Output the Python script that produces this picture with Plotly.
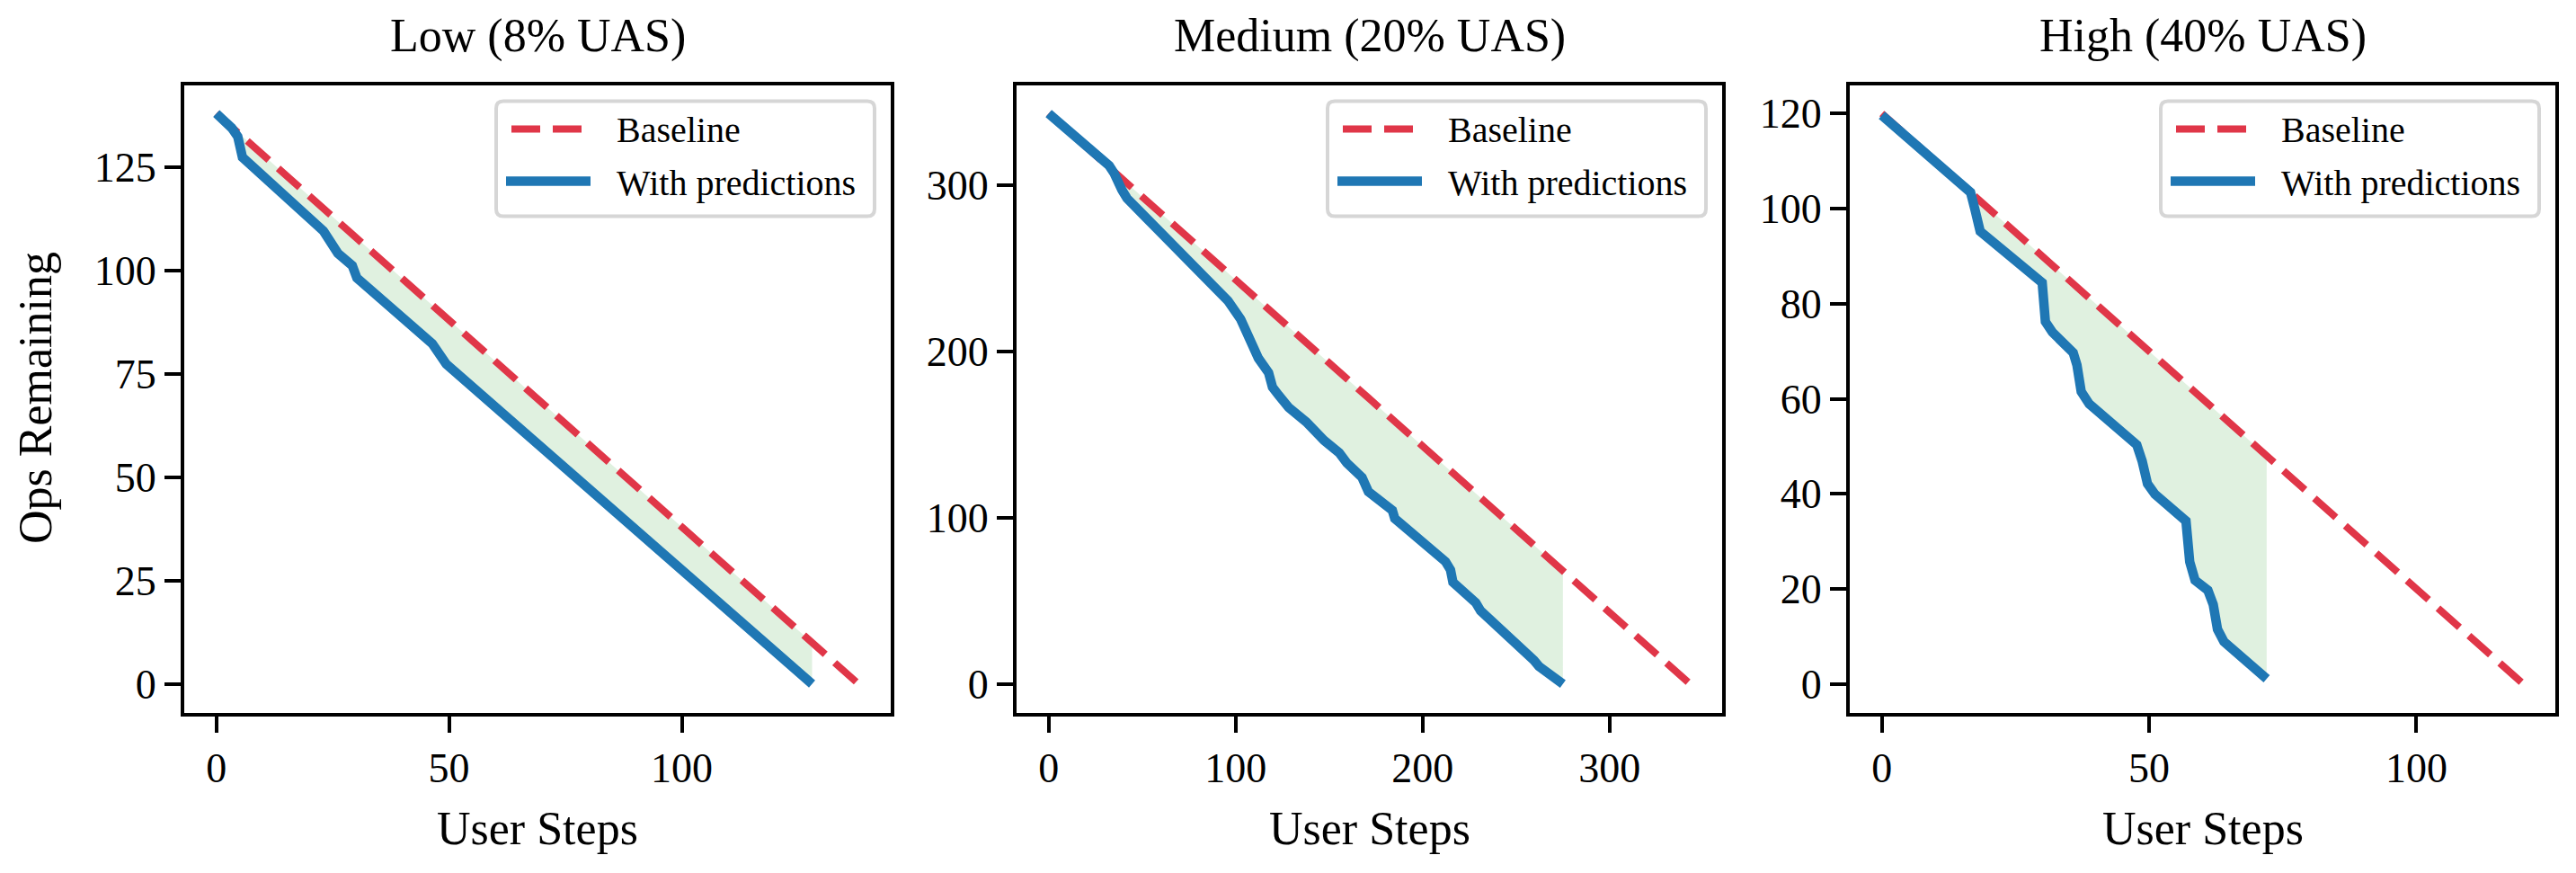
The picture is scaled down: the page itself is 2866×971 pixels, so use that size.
import numpy as np
import plotly.graph_objects as go

W, H = 2866, 971

# ---------------- data ----------------
titles = ["Low (8% UAS)", "Medium (20% UAS)", "High (40% UAS)"]

low_base_x = [0, 138]
low_base_y = [138, 0]
low_pred_x = [0, 2.3, 3.3, 4.6, 5.6, 23.0, 24.6, 26.1, 29.2, 30.2, 46.4, 47.9, 49.4, 128]
low_pred_y = [138, 136, 134.5, 132.4, 127.4, 109.6, 106.6, 104.2, 101.2, 98.2, 82.3, 79.9, 77.4, 0]

med_base_x = [0, 343]
med_base_y = [343, 0]
med_pred_x = [0, 32.4, 35.1, 36.5, 39.2, 41.9, 58.1, 73.5, 75.7, 82.4, 91.9, 95.9, 102.7,
              105.4, 109.5, 112.2, 117.6, 119.7, 123.0, 128.4, 137.8, 147.3, 155.4, 159.5,
              167.6, 171.0, 183.8, 185.1, 212.2, 214.9, 216.2, 228.4, 231.0, 248.6, 252.7,
              259.5, 262.2, 275]
med_pred_y = [343, 311.6, 306.9, 302, 297, 292, 273.6, 257.5, 253.8, 246.4, 236.5, 230.4, 219.3,
              213, 202, 195.8, 187.2, 178.5, 173.6, 166.2, 157.5, 146.4, 139, 132.8,
              124.2, 115.6, 104.4, 99.5, 73.6, 68.6, 61.2, 48.9, 44, 26.7, 21.7,
              14.3, 10.6, 0]

high_base_x = [0, 120]
high_base_y = [120, 0]
high_pred_x = [0, 16.6, 17.4, 18.4, 30.0, 30.6, 31.9, 35.8, 36.5, 37.3, 38.8, 47.7, 48.7,
               49.7, 51.1, 56.9, 57.6, 58.6, 61.0, 62.0, 62.8, 64.0, 72]
high_pred_y = [119.6, 103.4, 99.9, 95.2, 84.4, 76.2, 74, 69.7, 67.1, 61.5, 58.9, 50.3, 46.9,
               42.1, 39.9, 34.3, 25.7, 21.8, 19.7, 16.7, 11.5, 8.9, 1.1]

x_ticks = [[0, 50, 100], [0, 100, 200, 300], [0, 50, 100]]
y_ticks = [[0, 25, 50, 75, 100, 125], [0, 100, 200, 300], [0, 20, 40, 60, 80, 100, 120]]

x_label = "User Steps"
y_label = "Ops Remaining"
legend_labels = ["Baseline", "With predictions"]

# ---------------- styling ----------------
FONT = "Liberation Serif"
RED = "#e03648"
BLUE = "#1f77b4"
FILL = "rgba(44,160,44,0.15)"
LW = 4

frames = [(203, 993), (1129, 1918), (2056, 2845)]
TOP, BOT = 92.5, 794.5


def fx(X):
    return X / W


def fy(Y):
    return 1 - Y / H


panels = [
    (low_base_x, low_base_y, low_pred_x, low_pred_y),
    (med_base_x, med_base_y, med_pred_x, med_pred_y),
    (high_base_x, high_base_y, high_pred_x, high_pred_y),
]

fig = go.Figure()
shapes = []
annotations = []

for i, (bx, by, px_, py_) in enumerate(panels):
    xa = "x" if i == 0 else f"x{i + 1}"
    ya = "y" if i == 0 else f"y{i + 1}"

    # area between the prediction curve and the baseline
    b_end = float(np.interp(px_[-1], bx, by))
    b_start = float(np.interp(px_[0], bx, by))
    fill_x = list(px_) + [px_[-1], px_[0]]
    fill_y = list(py_) + [b_end, b_start]
    fig.add_trace(go.Scatter(x=fill_x, y=fill_y, mode="lines", fill="toself",
                             fillcolor=FILL, line=dict(width=0, color="rgba(0,0,0,0)"),
                             hoverinfo="skip", showlegend=False, xaxis=xa, yaxis=ya))
    fig.add_trace(go.Scatter(x=bx, y=by, mode="lines", name=legend_labels[0],
                             line=dict(color=RED, width=8, dash="32px,14px"),
                             showlegend=False, xaxis=xa, yaxis=ya))
    fig.add_trace(go.Scatter(x=px_, y=py_, mode="lines", name=legend_labels[1],
                             line=dict(color=BLUE, width=10.5),
                             showlegend=False, xaxis=xa, yaxis=ya))

    span = max(bx)
    pad = span * 0.05
    l, r = frames[i]
    axis_common = dict(showline=True, mirror=True, linecolor="black", linewidth=LW,
                       ticks="outside", ticklen=18, tickwidth=4, tickcolor="black",
                       tickfont=dict(family=FONT, size=46, color="black"),
                       showgrid=False, zeroline=False)
    xkey = "xaxis" if i == 0 else f"xaxis{i + 1}"
    ykey = "yaxis" if i == 0 else f"yaxis{i + 1}"
    fig.update_layout({
        xkey: dict(domain=[fx(l + LW / 2), fx(r - LW / 2)], range=[-pad, span + pad],
                   tickvals=x_ticks[i], anchor=ya, **axis_common),
        ykey: dict(domain=[fy(BOT - LW / 2), fy(TOP + LW / 2)], range=[-pad, span + pad],
                   tickvals=y_ticks[i], anchor=xa, **axis_common),
    })

    cx = (l + r) / 2
    annotations.append(dict(text=titles[i], x=fx(cx), y=fy(40), xref="paper", yref="paper",
                            xanchor="center", yanchor="middle", showarrow=False,
                            font=dict(family=FONT, size=52, color="black")))
    annotations.append(dict(text=x_label, x=fx(cx), y=fy(921), xref="paper", yref="paper",
                            xanchor="center", yanchor="middle", showarrow=False,
                            font=dict(family=FONT, size=52, color="black")))

    # legend box (matplotlib-style, rounded)
    L, T = r - 20 - 421, TOP + 20
    R, B = r - 20, TOP + 20 + 128
    rad = 8

    def P(X, Y):
        return f"{fx(X):.6f},{fy(Y):.6f}"

    path = (f"M {P(L + rad, T)} L {P(R - rad, T)} Q {P(R, T)} {P(R, T + rad)} "
            f"L {P(R, B - rad)} Q {P(R, B)} {P(R - rad, B)} L {P(L + rad, B)} "
            f"Q {P(L, B)} {P(L, B - rad)} L {P(L, T + rad)} Q {P(L, T)} {P(L + rad, T)} Z")
    shapes.append(dict(type="path", path=path, xref="paper", yref="paper", layer="above",
                       line=dict(color="#d6d6d6", width=4), fillcolor="rgba(255,255,255,0.8)"))
    shapes.append(dict(type="line", xref="paper", yref="paper", layer="above",
                       x0=fx(L + 17), x1=fx(L + 95), y0=fy(T + 31), y1=fy(T + 31),
                       line=dict(color=RED, width=8, dash="32px,14px")))
    shapes.append(dict(type="line", xref="paper", yref="paper", layer="above",
                       x0=fx(L + 11), x1=fx(L + 105), y0=fy(T + 89), y1=fy(T + 89),
                       line=dict(color=BLUE, width=10.5)))
    annotations.append(dict(text=legend_labels[0], x=fx(L + 132), y=fy(T + 32), xref="paper",
                            yref="paper", xanchor="left", yanchor="middle", showarrow=False,
                            font=dict(family=FONT, size=40, color="black")))
    annotations.append(dict(text=legend_labels[1], x=fx(L + 132), y=fy(T + 91), xref="paper",
                            yref="paper", xanchor="left", yanchor="middle", showarrow=False,
                            font=dict(family=FONT, size=40, color="black")))

annotations.append(dict(text=y_label, x=fx(40), y=fy(443), xref="paper", yref="paper",
                        xanchor="center", yanchor="middle", textangle=-90, showarrow=False,
                        font=dict(family=FONT, size=52, color="black")))

fig.update_layout(width=W, height=H, margin=dict(l=0, r=0, t=0, b=0),
                  paper_bgcolor="white", plot_bgcolor="white",
                  shapes=shapes, annotations=annotations, showlegend=False,
                  font=dict(family=FONT, color="black"))

fig.write_html("out.html")
